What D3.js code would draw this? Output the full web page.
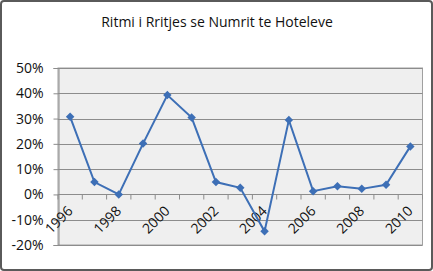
<!DOCTYPE html>
<html><head><meta charset="utf-8">
<script src="https://cdn.jsdelivr.net/npm/d3@7"></script>
<style>body{margin:0;background:#fff}svg{display:block}</style>
</head><body>
<script>
const years = [1996,1997,1998,1999,2000,2001,2002,2003,2004,2005,2006,2007,2008,2009,2010];
const values = [30.7,4.9,0.0,20.1,39.3,30.4,4.9,2.6,-14.6,29.4,1.3,3.2,2.2,3.8,19.0];
const yTicks = [-20,-10,0,10,20,30,40,50];
const title = "Ritmi i Rritjes se Numrit te Hoteleve";

const W=433,H=271;
const svg=d3.select("body").append("svg").attr("width",W).attr("height",H);
svg.append("rect").attr("x",1).attr("y",1).attr("width",W-2).attr("height",H-2)
  .attr("rx",3).attr("fill","#fff").attr("stroke","#5a5a5a").attr("stroke-width",2);
const font="Open Sans, Liberation Sans, sans-serif";
svg.append("text").attr("x",217).attr("y",27).attr("text-anchor","middle")
  .attr("font-family",font).attr("font-size",14).attr("fill","#111").text(title);

const L=58,R=422.5,T=68,B=245;
const x=d3.scaleBand().domain(years).range([L,R]);
const y=d3.scaleLinear().domain([-20,50]).range([B,T]);

svg.append("rect").attr("x",L).attr("y",T).attr("width",R-L).attr("height",B-T)
  .attr("fill","#efefef").attr("stroke","#a0a0a0").attr("stroke-width",1);
svg.append("g").selectAll("line").data(yTicks).join("line")
  .attr("x1",L).attr("x2",R).attr("y1",d=>Math.round(y(d))+0.5).attr("y2",d=>Math.round(y(d))+0.5)
  .attr("stroke","#8c8c8c").attr("stroke-width",1.2);

// y axis
const ya=svg.append("g").attr("transform",`translate(${L+0.5},0)`)
  .call(d3.axisLeft(y).tickValues(yTicks).tickSize(5).tickPadding(10).tickFormat(d=>d+"%"));
ya.select(".domain").attr("stroke","#8c8c8c");
ya.selectAll(".tick line").attr("stroke","#8c8c8c");
ya.selectAll("text").attr("font-family",font).attr("font-size",14).attr("fill","#111");

// x axis at 0
const y0=Math.round(y(0))+0.5;
svg.append("g").selectAll("line").data(d3.range(years.length+1)).join("line")
  .attr("x1",i=>L+i*x.step()).attr("x2",i=>L+i*x.step())
  .attr("y1",y0).attr("y2",y0+5).attr("stroke","#8c8c8c");
svg.append("g").selectAll("text").data(years.filter((d,i)=>i%2===0)).join("text")
  .attr("transform",d=>`translate(${x(d)+x.bandwidth()/2-4},${y0+10}) rotate(-45)`)
  .attr("text-anchor","end").attr("dy","0.75em")
  .attr("font-family",font).attr("font-size",14).attr("fill","#111").text(d=>d);

// line
const cx=d=>x(d)+x.bandwidth()/2;
svg.append("path").datum(years.map((d,i)=>[d,values[i]]))
  .attr("fill","none").attr("stroke","#3d6fb6").attr("stroke-width",2)
  .attr("d",d3.line().x(d=>cx(d[0])).y(d=>y(d[1])));
svg.append("g").selectAll("path").data(years.map((d,i)=>[d,values[i]])).join("path")
  .attr("transform",d=>`translate(${cx(d[0])},${y(d[1])}) rotate(45)`)
  .attr("d",d3.symbol(d3.symbolSquare,36)).attr("fill","#3d6fb6");
</script>
</body></html>
